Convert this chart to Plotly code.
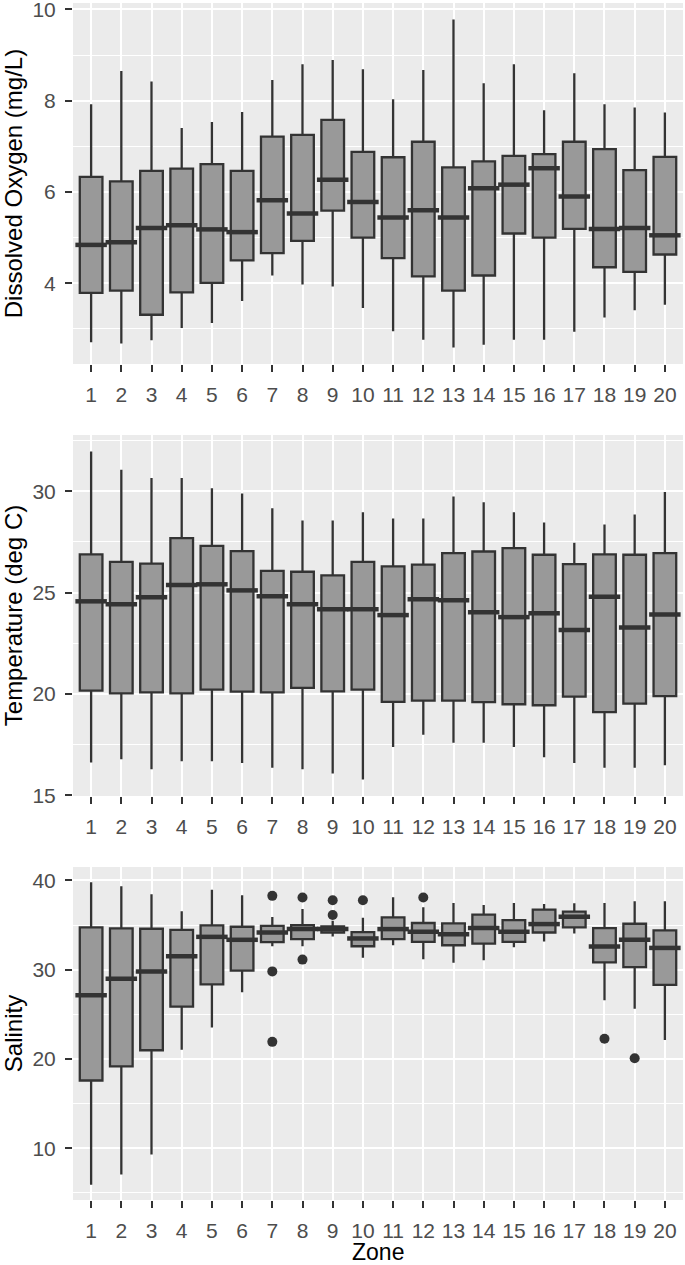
import plotly.graph_objects as go
from plotly.subplots import make_subplots

zones = list(range(1, 21))
zone_labels = [str(z) for z in zones]

# Dissolved oxygen (mg/L): box stats per zone
do_low = [2.71, 2.68, 2.75, 3.02, 3.13, 3.61, 4.17, 3.97, 3.93, 3.46,
          2.95, 2.76, 2.59, 2.65, 2.76, 2.76, 2.94, 3.25, 3.41, 3.53]
do_q1 = [3.79, 3.84, 3.31, 3.80, 4.01, 4.50, 4.66, 4.93, 5.59, 5.00,
         4.55, 4.15, 3.84, 4.17, 5.09, 5.00, 5.19, 4.35, 4.25, 4.63]
do_med = [4.84, 4.90, 5.21, 5.27, 5.18, 5.12, 5.82, 5.53, 6.27, 5.78,
          5.44, 5.60, 5.44, 6.08, 6.16, 6.52, 5.90, 5.19, 5.21, 5.05]
do_q3 = [6.33, 6.23, 6.46, 6.51, 6.61, 6.46, 7.21, 7.25, 7.58, 6.88,
         6.76, 7.10, 6.54, 6.67, 6.79, 6.83, 7.10, 6.94, 6.48, 6.77]
do_high = [7.92, 8.65, 8.42, 7.40, 7.53, 7.75, 8.45, 8.80, 8.89, 8.69,
           8.03, 8.67, 9.78, 8.38, 8.80, 7.79, 8.60, 7.92, 7.85, 7.74]

# Temperature (deg C)
t_low = [16.61, 16.77, 16.28, 16.67, 16.67, 16.59, 16.36, 16.28, 16.07, 15.77,
         17.38, 17.98, 17.59, 17.59, 17.38, 16.87, 16.59, 16.36, 16.36, 16.48]
t_q1 = [20.16, 20.03, 20.08, 20.03, 20.21, 20.11, 20.08, 20.30, 20.13, 20.21,
        19.61, 19.67, 19.67, 19.59, 19.49, 19.44, 19.87, 19.10, 19.52, 19.89]
t_med = [24.57, 24.43, 24.77, 25.38, 25.41, 25.11, 24.82, 24.43, 24.18, 24.18,
         23.89, 24.67, 24.62, 24.03, 23.79, 23.98, 23.16, 24.79, 23.28, 23.92]
t_q3 = [26.89, 26.52, 26.43, 27.69, 27.31, 27.05, 26.07, 26.03, 25.85, 26.52,
        26.30, 26.38, 26.95, 27.03, 27.20, 26.87, 26.41, 26.89, 26.87, 26.95]
t_high = [31.97, 31.07, 30.66, 30.66, 30.15, 29.89, 29.16, 28.56, 28.56, 28.97,
          28.66, 28.66, 29.75, 29.46, 28.97, 28.46, 27.46, 28.36, 28.85, 29.97]

# Salinity
s_low = [5.90, 7.07, 9.29, 21.02, 23.53, 27.48, 32.63, 32.63, 33.72, 31.35,
         32.74, 31.17, 30.79, 31.05, 32.52, 33.16, 34.06, 26.58, 25.64, 22.14]
s_q1 = [17.59, 19.17, 20.98, 25.86, 28.35, 29.89, 33.08, 33.42, 34.17, 32.63,
        33.42, 33.12, 32.74, 32.93, 33.12, 34.17, 34.74, 30.83, 30.30, 28.31]
s_med = [27.14, 28.98, 29.81, 31.50, 33.68, 33.35, 34.17, 34.55, 34.55, 33.50,
         34.55, 34.25, 33.98, 34.66, 34.25, 35.11, 35.94, 32.59, 33.35, 32.44]
s_q3 = [34.74, 34.62, 34.59, 34.47, 34.96, 34.81, 34.92, 35.00, 34.85, 34.21,
        35.86, 35.23, 35.19, 36.17, 35.56, 36.73, 36.50, 34.66, 35.15, 34.40]
s_high = [39.81, 39.36, 38.46, 36.54, 38.95, 38.35, 35.90, 36.80, 35.49, 35.83,
          38.12, 36.99, 37.48, 37.26, 37.48, 37.37, 37.44, 37.48, 37.67, 37.67]
s_out_zone = [7, 7, 7, 8, 8, 9, 9, 10, 12, 18, 19]
s_out_val = [38.27, 29.81, 21.92, 38.08, 31.13, 37.78, 36.13, 37.78, 38.08, 22.26, 20.08]

panels = [
    ("Dissolved Oxygen (mg/L)", do_low, do_q1, do_med, do_q3, do_high, [], [], 2, 1),
    ("Temperature (deg C)", t_low, t_q1, t_med, t_q3, t_high, [], [], 5, 2.5),
    ("Salinity", s_low, s_q1, s_med, s_q3, s_high, s_out_zone, s_out_val, 10, 5),
]

FONT = "Liberation Sans, Arial, sans-serif"
DARK = "#333333"
BOX_W = 0.75

fig = make_subplots(rows=3, cols=1)

# plot area in pixels: top 3, bottom 1200 -> panel domains (paper fractions)
domains = [[0.6984, 1.0], [0.3375, 0.6391], [0.0, 0.2782]]

for i, (title, low, q1, med, q3, high, ox, oy, dt, mdt) in enumerate(panels):
    row = i + 1
    fig.add_trace(
        go.Box(
            x=zones, q1=q1, median=med, q3=q3,
            lowerfence=low, upperfence=high,
            width=BOX_W, whiskerwidth=0, boxpoints=False,
            fillcolor="#999999",
            line=dict(color=DARK, width=2.3),
            showlegend=False, hoverinfo="skip",
        ),
        row=row, col=1,
    )
    # thicker median bar, ggplot style
    fig.add_trace(
        go.Scatter(
            x=zones, y=med, mode="markers",
            marker=dict(symbol="line-ew", size=22.5,
                        line=dict(color=DARK, width=4.5)),
            showlegend=False, hoverinfo="skip",
        ),
        row=row, col=1,
    )
    if ox:
        fig.add_trace(
            go.Scatter(
                x=ox, y=oy, mode="markers",
                marker=dict(color=DARK, size=10),
                showlegend=False, hoverinfo="skip",
            ),
            row=row, col=1,
        )

    lo = min(low + oy)
    hi = max(high + oy)
    pad = (hi - lo) * 0.05
    fig.update_yaxes(
        row=row, col=1,
        domain=domains[i],
        range=[lo - pad, hi + pad],
        dtick=dt, tick0=0,
        showgrid=True, gridcolor="white", gridwidth=2,
        minor=dict(dtick=mdt, tick0=0, showgrid=True, gridcolor="white", gridwidth=1),
        ticks="outside", ticklen=7, tickwidth=2, tickcolor=DARK,
        tickfont=dict(size=21, color="#4D4D4D", family=FONT),
        ticklabelstandoff=5, ticklabeloverflow="allow",
        zeroline=False, showline=False, automargin=False,
        title=dict(text=title, font=dict(size=24, color="black", family=FONT), standoff=6),
    )
    fig.update_xaxes(
        row=row, col=1,
        range=[0.4, 20.6],
        tickvals=zones, ticktext=zone_labels,
        showgrid=True, gridcolor="white", gridwidth=2,
        ticks="outside", ticklen=7, tickwidth=2, tickcolor=DARK,
        tickfont=dict(size=21, color="#4D4D4D", family=FONT),
        ticklabelstandoff=5, ticklabeloverflow="allow",
        zeroline=False, showline=False, automargin=False,
    )

# x-axis title for the bottom panel
fig.add_annotation(
    text="Zone", xref="paper", yref="paper", x=0.5, y=0,
    xanchor="center", yanchor="top", yshift=-37, showarrow=False,
    font=dict(size=23, color="black", family=FONT),
)

fig.update_layout(
    width=685, height=1265,
    margin=dict(l=73, r=2, t=3, b=65, autoexpand=False),
    paper_bgcolor="white",
    plot_bgcolor="#EBEBEB",
    font=dict(family=FONT),
    showlegend=False,
)

# the page body has a default 8px margin; drop it so the figure fills the window
fig.write_html("out.html", config={"displayModeBar": False},
               post_script="document.body.style.margin='0';")
